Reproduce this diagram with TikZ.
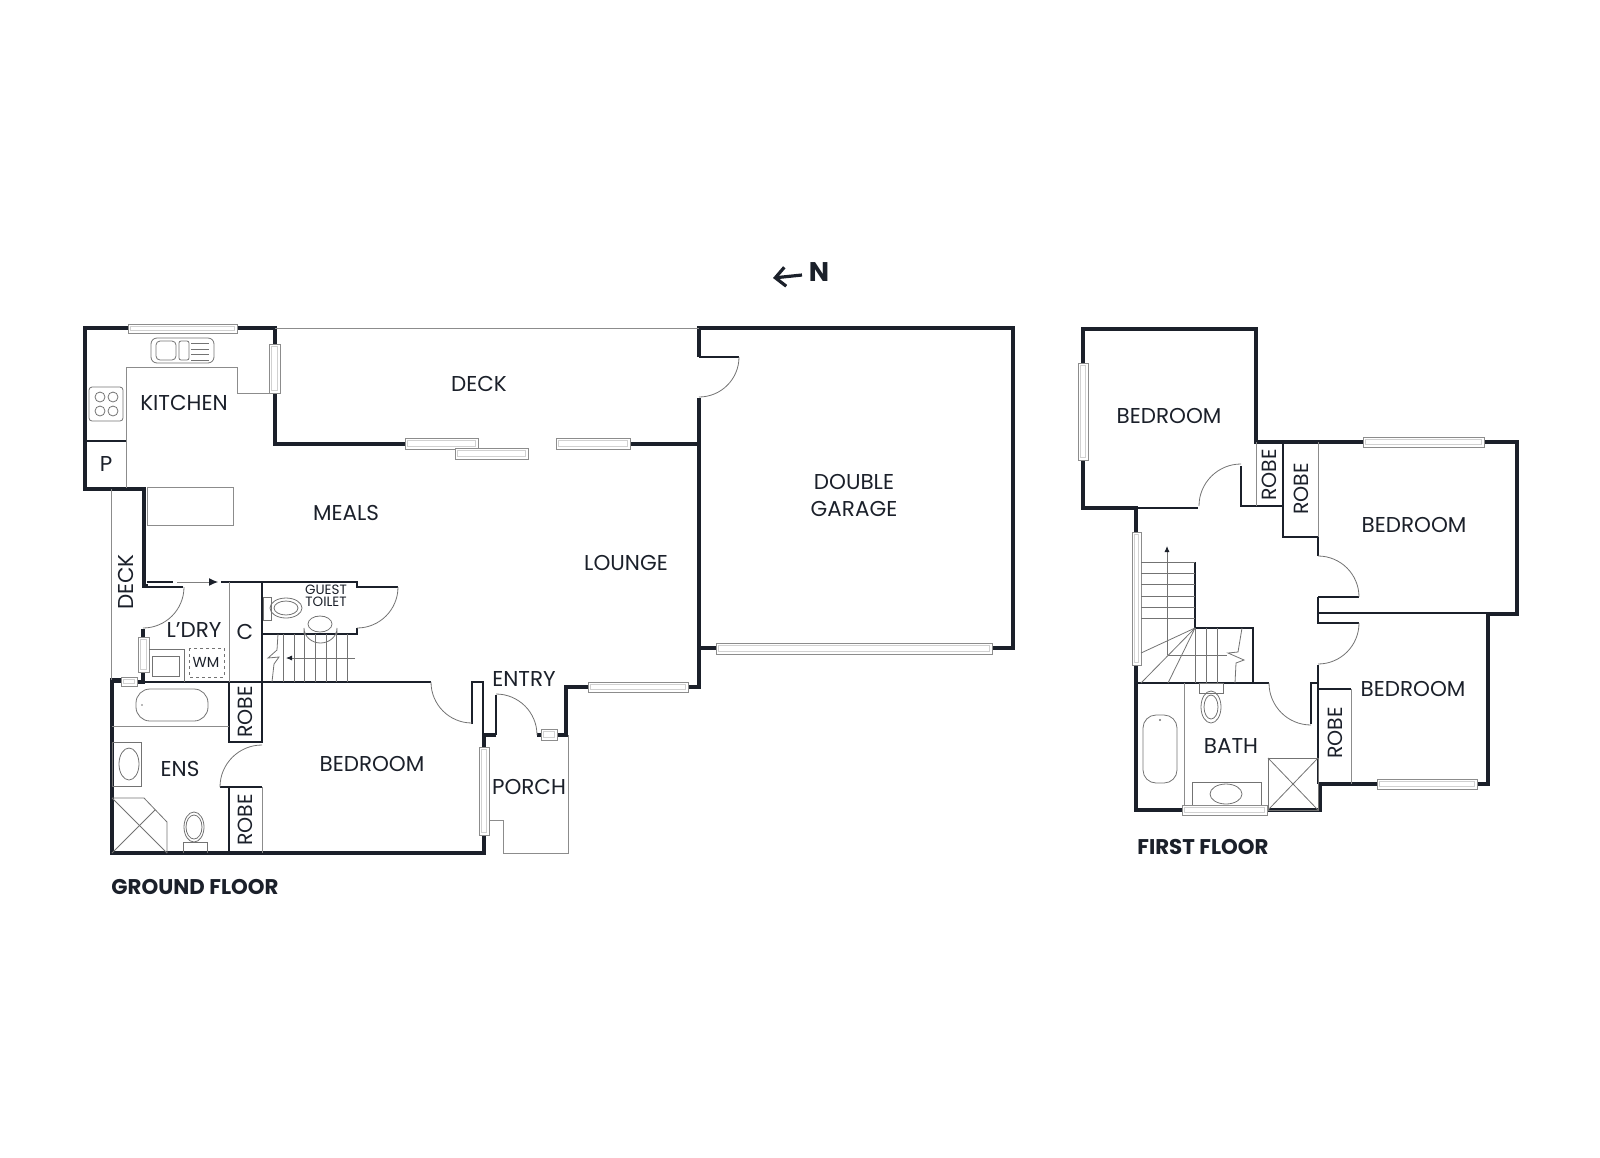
\documentclass[tikz,border=0pt]{standalone}
\usepackage{fontspec}
\setmainfont{Poppins}
\usepackage{tikz}
\usetikzlibrary{arrows.meta}
\definecolor{wallcol}{RGB}{27,32,42}
\tikzset{
  wall/.style={draw=wallcol,line width=4.6pt,line join=miter},
  part/.style={draw=wallcol,line width=1.3pt},
  thinpart/.style={draw=black!45,line width=0.9pt},
  fixture/.style={draw=black!55,line width=0.8pt},
  doorarc/.style={draw=black!55,line width=0.8pt},
  winbox/.style={draw=black!45,line width=0.9pt,fill=white},
  wininner/.style={draw=black!18,line width=0.5pt},
  room/.style={text=wallcol,font=\fontsize{21.5}{20}\selectfont,inner sep=0pt,align=center},
  smallroom/.style={text=wallcol,font=\fontsize{13.5}{11.5}\selectfont,inner sep=0pt,align=center},
  floorname/.style={text=wallcol,font=\fontsize{21.3}{20}\selectfont\bfseries,inner sep=0pt}
}
\begin{document}
\begin{tikzpicture}[x=1pt,y=-1pt]
\useasboundingbox (0,0) rectangle (1600,1157);
% ground floor walls
\draw[wall] (128,328) -- (85,328) -- (85,489) -- (144,489) -- (144,586) -- (148,586);
\draw[wall] (237,328) -- (275,328) -- (275,344);
\draw[wall] (275,393) -- (275,444) -- (405,444);
\draw[wall] (630,444) -- (699,444);
\draw[wall] (699,357) -- (699,328) -- (1013,328) -- (1013,648) -- (992,648);
\draw[wall] (699,398) -- (699,687) -- (688,687);
\draw[wall] (699,648) -- (716,648);
\draw[wall] (588,687) -- (566,687) -- (566,735) -- (557,735);
\draw[wall] (541,735) -- (537,735);
\draw[wall] (496,735) -- (484,735) -- (484,747);
\draw[wall] (484,835) -- (484,853) -- (112,853) -- (112,680) -- (121,680);
\draw[wall] (143,629) -- (143,637);
\draw[wall] (143,672) -- (143,682) -- (137,682);
% first floor walls
\draw[wall] (1083,363) -- (1083,329) -- (1256,329) -- (1256,442) -- (1363,442);
\draw[wall] (1083,460) -- (1083,508) -- (1136,508) -- (1136,532);
\draw[wall] (1136,665) -- (1136,810) -- (1182,810);
\draw[wall] (1267,810) -- (1320,810) -- (1320,784) -- (1377,784);
\draw[wall] (1477,784) -- (1488,784) -- (1488,614) -- (1517,614) -- (1517,442) -- (1484,442);
% ground floor partitions
\draw[part] (147,582) -- (173,582);
\draw[part] (144,587) -- (183,587);
\draw[part] (221,582) -- (357,582) -- (357,587) -- (398,587);
\draw[part] (262,582) -- (262,682);
\draw[part] (262,634) -- (357,634) -- (357,628);
\draw[part] (112,682) -- (431,682);
\draw[part] (472,724) -- (472,682) -- (483,682) -- (483,735);
\draw[part] (496,735) -- (496,695);
\draw[part] (229,682) -- (229,742) -- (262,742) -- (262,682);
\draw[part] (220,787) -- (262,787);
\draw[part] (229,787) -- (229,853);
\draw[part] (699,357) -- (739,357);
% first floor partitions
\draw[part] (1136,508) -- (1198,508);
\draw[part] (1241,466) -- (1241,506) -- (1283,506);
\draw[part] (1283,442) -- (1283,537) -- (1318,537) -- (1318,556);
\draw[part] (1318,597) -- (1359,597);
\draw[part] (1318,597) -- (1318,623) -- (1359,623);
\draw[part] (1318,613) -- (1488,613);
\draw[part] (1318,665) -- (1318,784);
\draw[part] (1311,724) -- (1311,683) -- (1318,683);
\draw[part] (1136,683) -- (1269,683);
\draw[part] (1318,689) -- (1351,689);
\draw[part] (1195,562) -- (1195,628) -- (1253,628) -- (1253,683);
% light lines
\draw[thinpart] (275,328) -- (699,328);
\draw[thinpart] (111,489) -- (111,680);
\draw[thinpart] (126,488) -- (126,367) -- (237,367) -- (237,393) -- (269,393);
\draw[part] (85,441) -- (126,441);
\draw[thinpart] (147,487) rectangle (233,525);
\draw[thinpart] (229,582) -- (229,682);
\draw[thinpart] (262,787) -- (262,853);
\draw[thinpart] (112,726) -- (229,726);
\draw[thinpart] (568,735) -- (568,853) -- (503,853) -- (503,820) -- (489,820);
\draw[thinpart] (1256,442) -- (1256,506);
\draw[thinpart] (1318,442) -- (1318,537);
\draw[thinpart] (1351,689) -- (1351,784);
\draw[thinpart] (1184,683) -- (1184,805);
% door swings
\foreach \cx/\cy/\sa/\ea/\rr in {143/587/0/90/41, 357/587/0/90/41, 472/682/180/90/41,
    496/735/270/360/41, 699/357/0/90/40, 262/787/270/180/42,
    1241/506/270/180/42, 1318/597/270/360/41, 1318/623/0/90/41, 1311/683/180/90/42}
  \draw[doorarc] (\cx,\cy) ++(\sa:\rr) arc[start angle=\sa,end angle=\ea,radius=\rr];
% windows
\foreach \xa/\ya/\xb/\yb in {128/324/237/333, 269/344/280/393, 405/438/478/449, 455/448/528/459,
    556/438/630/449, 716/643/992/654, 588/682/688/692, 541/729/557/740, 479/747/489/835,
    121/677/137/686, 138/637/149/672, 1078/363/1088/460, 1132/532/1141/665, 1182/805/1267/815,
    1377/779/1477/789, 1363/437/1484/447}
  {\draw[winbox] (\xa,\ya) rectangle (\xb,\yb);
   \draw[wininner] (\xa+2.5,\ya+2.5) rectangle (\xb-2.5,\yb-2.5);}
% kitchen fittings
\draw[fixture,rounded corners=6pt] (151,338) rectangle (214,363);
\draw[fixture,rounded corners=4pt] (156,341) rectangle (176,360);
\draw[fixture,rounded corners=2pt] (179,341) rectangle (189,360);
\foreach \yy in {343,349,354,360} \draw[fixture] (191,\yy) -- (209,\yy);
\draw[fixture,rounded corners=3pt] (89,387) rectangle (123,421);
\foreach \xx in {100,113} \foreach \yy in {397,411} \draw[fixture] (\xx,\yy) circle (5);
% guest toilet, laundry
\draw[fixture] (263,597) rectangle (271,620);
\draw[fixture] (286,608) ellipse (16 and 10);
\draw[fixture] (286,608) ellipse (12 and 7);
\draw[fixture] (304,634) -- (304,628) arc[start angle=180,end angle=360,x radius=16.5,y radius=-15] -- (337,634);
\draw[fixture] (320,624) ellipse (12 and 8);
\draw[fixture] (149,649) -- (184,649) -- (184,682);
\draw[fixture] (152,656) rectangle (179,676);
\draw[fixture,dashed] (189,648) rectangle (224,677);
% ground floor stairs
\foreach \xx in {283,294,304,315,326,336,347} \draw[fixture] (\xx,634) -- (\xx,682);
\draw[fixture] (278,634) -- (277,650) -- (268,658) -- (279,657) -- (274,664) -- (272,682);
\draw[fixture,-{Latex[length=6pt,width=5pt,color=wallcol]}] (355,658) -- (286,658);
\draw[draw=black!50,line width=1pt,-{Latex[length=9pt,width=8pt,color=wallcol]}] (177,582) -- (218,582);
% ensuite
\draw[fixture,rounded corners=14pt] (136,689) rectangle (208,721);
\fill[black!55] (142,705) circle (0.9);
\draw[fixture] (112,742) rectangle (141,786);
\draw[fixture] (129,764) ellipse (10 and 16);
\draw[fixture] (112,798) -- (144,798) -- (167,822) -- (167,853);
\draw[fixture] (112,798) -- (167,853);
\draw[fixture] (112,853) -- (155,810);
\draw[fixture] (194,827) ellipse (10 and 15);
\draw[fixture] (194,827) ellipse (8 and 12);
\draw[fixture] (183,853) -- (183,842) -- (207,842) -- (207,853);
% first floor stairs
\foreach \yy in {562,573,584,596,607,618} \draw[fixture] (1141,\yy) -- (1195,\yy);
\draw[fixture] (1195,628) -- (1141,653);
\draw[fixture] (1195,628) -- (1141,683);
\draw[fixture] (1195,628) -- (1168,683);
\foreach \xx in {1195,1206,1217} \draw[fixture] (\xx,628) -- (\xx,683);
\draw[fixture] (1168,655) -- (1227,655);
\draw[fixture] (1242,628) -- (1238,652) -- (1228,653) -- (1244,660) -- (1236,663) -- (1235,683);
\draw[fixture,-{Latex[length=6pt,width=5pt,color=wallcol]}] (1167,655) -- (1167,546);
% bath
\draw[fixture,rounded corners=13pt] (1143,783) -- (1143,715) -- (1177,715) -- (1177,783) -- cycle;
\fill[black!55] (1160,720) circle (1.2);
\draw[fixture] (1199,683) rectangle (1223,693);
\draw[fixture] (1211,707) ellipse (10 and 16);
\draw[fixture] (1211,707) ellipse (7 and 12);
\draw[fixture] (1192,805) -- (1192,782) -- (1261,782) -- (1261,805);
\draw[fixture] (1226,794) ellipse (16 and 10);
\draw[fixture] (1268,758) rectangle (1318,810);
\draw[fixture] (1268,758) -- (1318,810);
\draw[fixture] (1268,810) -- (1318,758);
% north arrow
\node[inner sep=0pt,text=wallcol,font=\fontsize{27}{27}\selectfont\bfseries] at (819,272) (north) {N};
\coordinate (northtail) at (802,275);
\draw[draw=wallcol,line width=3.2pt,-{Straight Barb[length=10pt,width=19pt]}] (northtail) -- (773,278);
% labels
\node[room] at (184,403) (kitchen) {KITCHEN};
\node[room] at (106,464) (pantry) {P};
\node[room] at (479,384) (deckn) {DECK};
\node[room] at (346,513) (meals) {MEALS};
\node[room] at (626,563) (lounge) {LOUNGE};
\node[room] at (854,495) (garage) {DOUBLE\\[7pt]GARAGE};
\node[room,rotate=90] at (126,582) (deckw) {DECK};
\node[room] at (194,630) (ldry) {L’DRY};
\node[room] at (245,632) (cupb) {C};
\node[smallroom] at (326,596) (guest) {GUEST\\TOILET};
\node[smallroom,font=\fontsize{14.5}{14.5}\selectfont] at (206,662) (wm) {WM};
\node[room] at (180,769) (ens) {ENS};
\node[room] at (372,764) (beda) {BEDROOM};
\node[room,rotate=90,font=\fontsize{20.5}{20}\selectfont] at (245,712) (robea) {ROBE};
\node[room,rotate=90,font=\fontsize{20.5}{20}\selectfont] at (245,820) (robeb) {ROBE};
\node[room] at (524,679) (entry) {ENTRY};
\node[room] at (529,787) (porch) {PORCH};
\node[floorname] at (195,887) (ground) {GROUND FLOOR};
\node[room] at (1169,416) (bedb) {BEDROOM};
\node[room,rotate=90,font=\fontsize{20.5}{20}\selectfont] at (1269,475) (robec) {ROBE};
\node[room,rotate=90,font=\fontsize{20.5}{20}\selectfont] at (1301,489) (robed) {ROBE};
\node[room] at (1414,525) (bedc) {BEDROOM};
\node[room] at (1413,689) (bedd) {BEDROOM};
\node[room,rotate=90,font=\fontsize{20.5}{20}\selectfont] at (1335,733) (robee) {ROBE};
\node[room] at (1231,746) (bath) {BATH};
\node[floorname] at (1203,847) (first) {FIRST FLOOR};
\end{tikzpicture}
\end{document}
